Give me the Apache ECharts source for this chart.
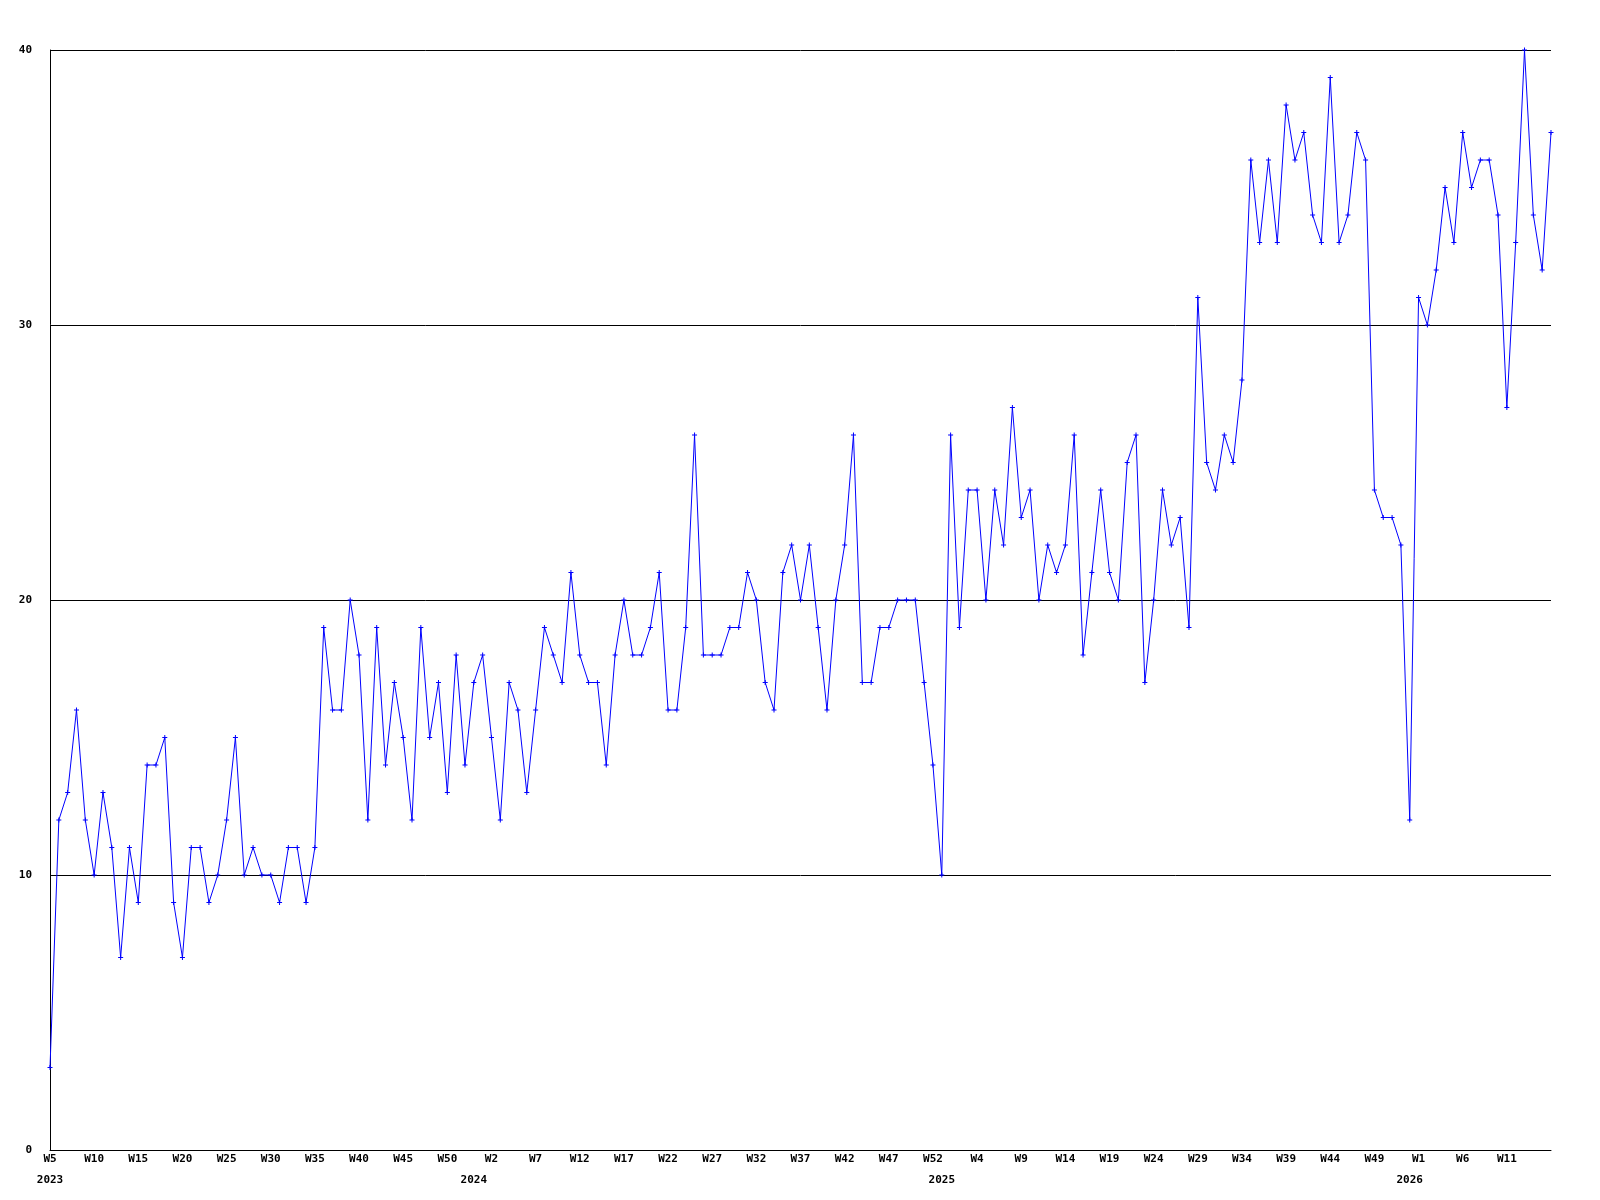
<!DOCTYPE html>
<html>
<head>
<meta charset="utf-8">
<script src="https://cdn.jsdelivr.net/npm/echarts@6/dist/echarts.min.js"></script>
<style>
html,body{margin:0;padding:0;background:#fff;}
#chart{width:1600px;height:1200px;}
</style>
</head>
<body>
<div id="chart"></div>
<script>
// Years shown and the first week number of each year in the data
const years = [2023, 2024, 2025, 2026];
const firstWeek = [5, 0, 0, 0];

// Weekly values per year
const values2023 = [3,12,13,16,12,10,13,11,7,11, 9,14,14,15,9,7,11,11,9,10, 12,15,10,11,10,10,9,11,11,9, 11,19,16,16,20,18,12,19,14,17, 15,12,19,15,17,13,18,14];
const values2024 = [17, 18,15,12,17,16,13,16,19,18,17, 21,18,17,17,14,18,20,18,18,19, 21,16,16,19,26,18,18,18,19,19, 21,20,17,16,21,22,20,22,19,16, 20,22,26,17,17,19,19,20,20,20, 17,14];
const values2025 = [10, 26,19,24,24,20,24,22,27, 23,24,20,22,21,22,26,18,21,24, 21,20,25,26,17,20,24,22,23,19, 31,25,24,26,25,28,36,33,36,33, 38,36,37,34,33,39,33,34,37,36, 24,23,23,22];
const values2026 = [12, 31,30,32,35,33,37,35,36,36,34,27,33,40,34,32,37];

// Y axis ticks
const yTicks = [0, 10, 20, 30, 40];

const perYear = [values2023, values2024, values2025, values2026];
const categories = [];
const values = [];
const yearStartIdx = {};
perYear.forEach((arr, yi) => {
  arr.forEach((v, i) => {
    if (i === 0) yearStartIdx[categories.length] = years[yi];
    categories.push(years[yi] + '|W' + (firstWeek[yi] + i));
    values.push(v);
  });
});
const lastIdx = categories.length - 1;

const font = {fontFamily: 'DejaVu Sans Mono', fontWeight: 'bold', fontSize: 11, color: '#000'};

const chart = echarts.init(document.getElementById('chart'), null, {renderer: 'canvas'});
chart.setOption({
  animation: false,
  backgroundColor: '#ffffff',
  grid: {left: 50, right: 49, top: 50, bottom: 50, containLabel: false},
  xAxis: [
    {
      type: 'category',
      data: categories,
      boundaryGap: false,
      axisLine: {show: true, lineStyle: {color: '#000', width: 1}},
      axisTick: {show: false},
      splitLine: {show: false},
      axisLabel: Object.assign({
        interval: (idx) => idx % 5 === 0 && idx < lastIdx,
        margin: 4,
        formatter: (v) => v.split('|')[1]
      }, font)
    },
    {
      type: 'category',
      data: categories,
      boundaryGap: false,
      position: 'bottom',
      axisLine: {show: false},
      axisTick: {show: false},
      splitLine: {show: false},
      axisLabel: Object.assign({
        interval: (idx) => yearStartIdx[idx] !== undefined,
        margin: 25,
        formatter: (v) => v.split('|')[0]
      }, font)
    }
  ],
  yAxis: {
    type: 'value',
    min: yTicks[0],
    max: yTicks[yTicks.length - 1],
    interval: 10,
    axisLine: {show: true, lineStyle: {color: '#000', width: 1}},
    axisTick: {show: false},
    splitLine: {show: true, lineStyle: {color: '#000', width: 1}},
    axisLabel: Object.assign({margin: 18}, font)
  },
  series: [{
    type: 'line',
    data: values,
    xAxisIndex: 0,
    showSymbol: true,
    showAllSymbol: true,
    symbol: 'path://M2,0H3V2H5V3H3V5H2V3H0V2H2Z',
    symbolSize: 5,
    itemStyle: {color: '#0000ff'},
    lineStyle: {color: '#0000ff', width: 1},
    emphasis: {disabled: true}
  }]
});
</script>
</body>
</html>
